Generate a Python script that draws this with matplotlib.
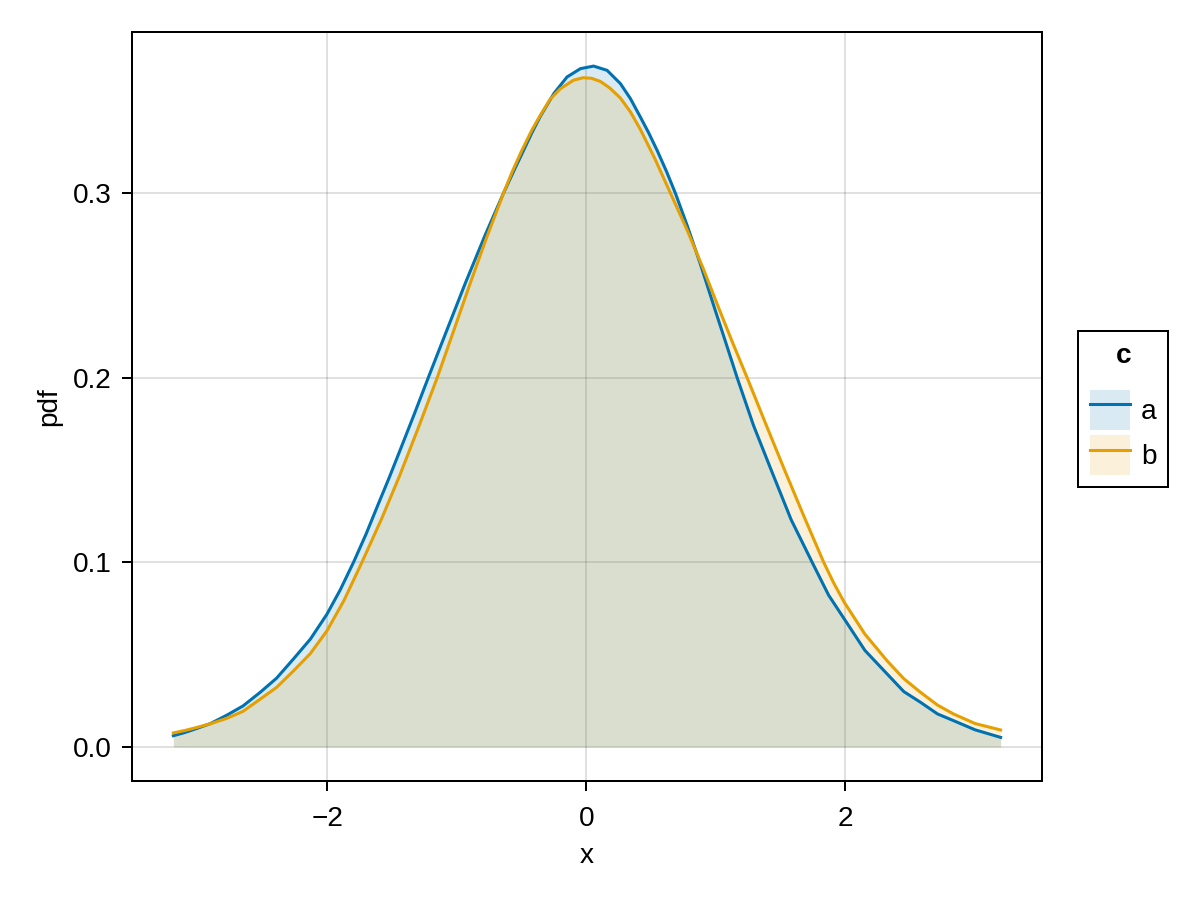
import matplotlib.pyplot as plt
from matplotlib.patches import Patch
from matplotlib.lines import Line2D

plt.rcParams["font.family"] = ["Liberation Sans", "DejaVu Sans"]

# density curves
x_a = [-3.187, -3.10, -3.032, -2.90, -2.775, -2.65, -2.517, -2.39, -2.260, -2.13,
       -2.002, -1.90, -1.797, -1.70, -1.606, -1.52, -1.436, -1.33, -1.220, -1.166,
       -1.08, -0.934, -0.78, -0.639, -0.56, -0.484, -0.42, -0.355, -0.25, -0.149,
       -0.046, 0.056, 0.160, 0.263, 0.34, 0.417, 0.48, 0.546, 0.62, 0.687,
       0.778, 0.88, 0.988, 1.075, 1.164, 1.29, 1.421, 1.58, 1.743, 1.87,
       1.992, 2.15, 2.322, 2.45, 2.579, 2.71, 2.836, 3.0, 3.197]
y_a = [0.0061, 0.0078, 0.0094, 0.0127, 0.0172, 0.0222, 0.0296, 0.0373, 0.0477, 0.0584,
       0.0719, 0.0850, 0.1000, 0.1153, 0.1315, 0.1461, 0.1610, 0.1799, 0.2000, 0.2097,
       0.2251, 0.2512, 0.2774, 0.3000, 0.3120, 0.3232, 0.3327, 0.3416, 0.3540, 0.3629,
       0.3674, 0.3688, 0.3665, 0.3593, 0.3512, 0.3412, 0.3328, 0.3232, 0.3115, 0.3000,
       0.2825, 0.2616, 0.2380, 0.2193, 0.2000, 0.1742, 0.1510, 0.1232, 0.1000, 0.0822,
       0.0692, 0.0523, 0.0395, 0.0300, 0.0242, 0.0179, 0.0142, 0.0093, 0.0052]

x_b = [-3.187, -3.10, -3.032, -2.90, -2.775, -2.65, -2.517, -2.39, -2.260, -2.13,
       -2.002, -1.87, -1.732, -1.58, -1.44, -1.29, -1.151, -1.02, -0.896, -0.77,
       -0.639, -0.57, -0.497, -0.42, -0.355, -0.28, -0.201, -0.098, -0.025, 0.04,
       0.108, 0.18, 0.263, 0.34, 0.417, 0.53, 0.649, 0.778, 0.90, 1.027,
       1.13, 1.241, 1.38, 1.53, 1.68, 1.832, 1.91, 1.992, 2.15, 2.322,
       2.45, 2.579, 2.71, 2.836, 3.0, 3.197]
y_b = [0.0076, 0.0089, 0.0101, 0.0126, 0.0155, 0.0193, 0.0259, 0.0323, 0.0412, 0.0506,
       0.0629, 0.0794, 0.1000, 0.1236, 0.1471, 0.1741, 0.2000, 0.2262, 0.2512, 0.2758,
       0.3000, 0.3119, 0.3232, 0.3342, 0.3422, 0.3508, 0.3565, 0.3612, 0.3625, 0.3622,
       0.3605, 0.3570, 0.3515, 0.3440, 0.3345, 0.3185, 0.3000, 0.2800, 0.2595, 0.2368,
       0.2188, 0.2000, 0.1758, 0.1500, 0.1248, 0.1000, 0.0887, 0.0782, 0.0611, 0.0466,
       0.0370, 0.0296, 0.0227, 0.0178, 0.0127, 0.0092]

groups = ["a", "b"]
colors = ["#0072B2", "#E69F00"]

fig = plt.figure(figsize=(6, 4.5), dpi=200)
ax = fig.add_axes([0.11, 0.1322, 0.7583, 0.8322])

handles = []
for xs, ys, name, c in zip([x_a, x_b], [y_a, y_b], groups, colors):
    ax.fill_between(xs, 0, ys, color=c, alpha=0.15, linewidth=0)
    ax.plot(xs, ys, color=c, linewidth=1.1, solid_joinstyle="round")
    handles.append((Patch(facecolor=c, alpha=0.15, linewidth=0),
                    Line2D([], [], color=c, linewidth=1.1)))

ax.margins(x=0.05, y=0.05)
ax.set_xticks([-2, 0, 2])
ax.set_yticks([0.0, 0.1, 0.2, 0.3])
ax.set_yticklabels(["0.0", "0.1", "0.2", "0.3"])
ax.grid(True, color="black", alpha=0.12, linewidth=0.72)
ax.set_axisbelow(True)
for s in ax.spines.values():
    s.set_linewidth(0.72)
ax.tick_params(direction="out", length=3.6, width=0.72, labelsize=10.1)
ax.tick_params(axis="x", pad=5.5)
ax.tick_params(axis="y", pad=3.6)
ax.set_xlabel("x", fontsize=10.1, labelpad=4)
ax.set_ylabel("pdf", fontsize=10.1, labelpad=4)

leg = fig.legend(handles, groups, title="c", loc="center left",
                 bbox_to_anchor=(0.8983, 0.5455), borderaxespad=0, fontsize=10.1,
                 title_fontproperties={"weight": "bold", "size": 10.1},
                 frameon=True, fancybox=False, framealpha=1, edgecolor="black",
                 handlelength=1.43, handleheight=1.8, labelspacing=0.2,
                 handletextpad=0.4, borderpad=0.42)
leg.get_frame().set_linewidth(0.72)
# more room between the title and the entries
leg._legend_box.sep = leg._legend_box.sep + 5.5

fig.savefig("out.png")
